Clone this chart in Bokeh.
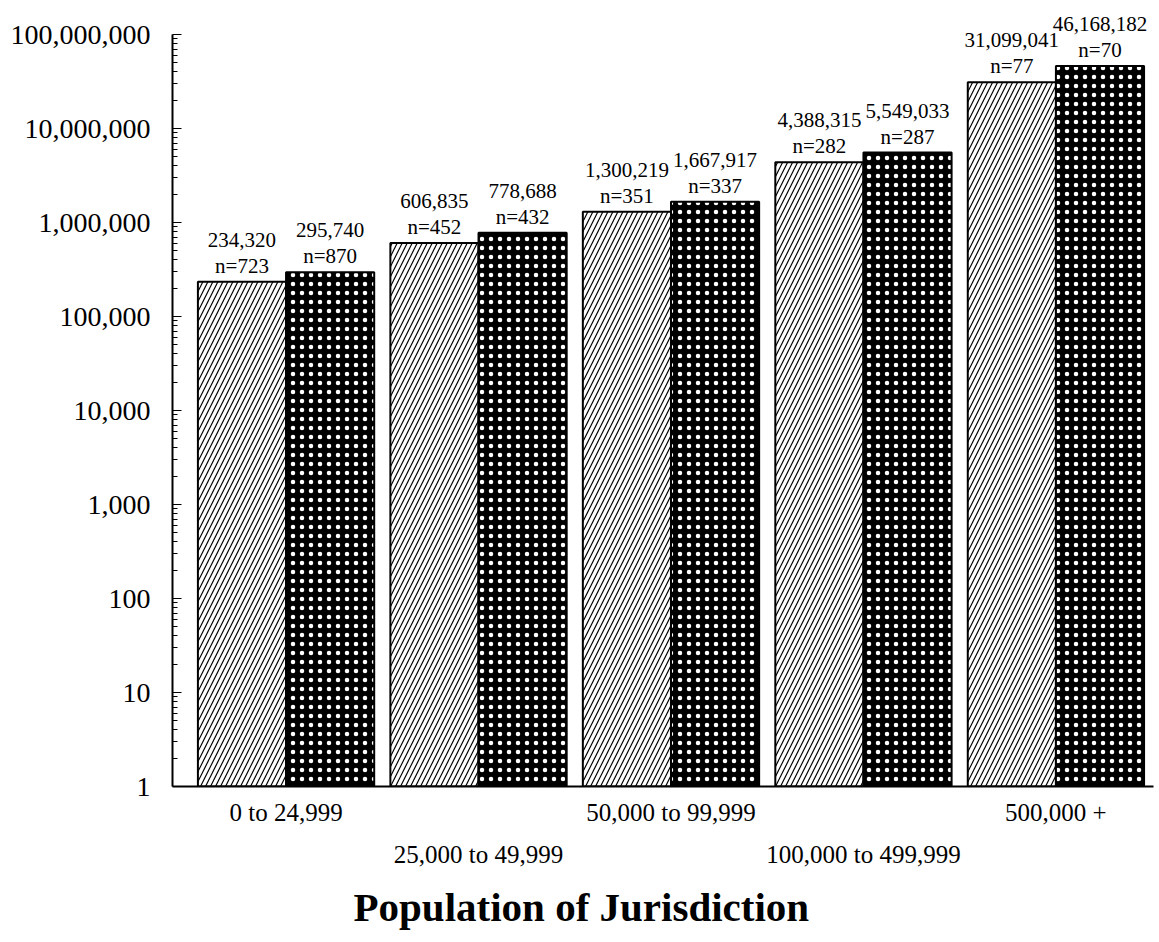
from bokeh.plotting import figure
from bokeh.models import (Range1d, FixedTicker, LinearAxis, ColumnDataSource,
                          LabelSet, Title)
from bokeh.transform import dodge
from bokeh.embed import file_html
from bokeh.resources import INLINE

# ---------------- data ----------------
categories = ["0 to 24,999", "25,000 to 49,999", "50,000 to 99,999",
              "100,000 to 499,999", "500,000 +"]
series_a = [234320, 606835, 1300219, 4388315, 31099041]      # hatched bars
n_a = [723, 452, 351, 282, 77]
series_b = [295740, 778688, 1667917, 5549033, 46168182]      # dotted bars
n_b = [870, 432, 337, 287, 70]
y_tick_values = [1, 10, 100, 1000, 10000, 100000, 1000000, 10000000, 100000000]
y_tick_labels = ["1", "10", "100", "1,000", "10,000", "100,000",
                 "1,000,000", "10,000,000", "100,000,000"]
x_title = "Population of Jurisdiction"

FONT = "Liberation Serif"

idx = list(range(len(categories)))
src = ColumnDataSource(dict(
    idx=idx,
    a=series_a, b=series_b,
    a_val=[f"{v:,}" for v in series_a],
    b_val=[f"{v:,}" for v in series_b],
    a_n=[f"n={v}" for v in n_a],
    b_n=[f"n={v}" for v in n_b],
))

p = figure(width=1157, height=942, output_backend="svg", toolbar_location=None,
           y_axis_type="log",
           x_range=Range1d(-0.59, 4.507), y_range=Range1d(1, 10 ** 8.362),
           min_border_left=172, min_border_right=4, min_border_top=0,
           min_border_bottom=156)
p.outline_line_color = None
p.xgrid.visible = False
p.ygrid.visible = False
p.background_fill_color = "white"
p.border_fill_color = "white"

BW = 0.458
OFF = BW / 2

p.vbar(x=dodge("idx", -OFF), top="a", bottom=1, width=BW, source=src,
       fill_color="white", line_color="black", line_width=2,
       hatch_pattern="/", hatch_color="black", hatch_scale=10, hatch_weight=1.2)
p.vbar(x=dodge("idx", OFF), top="b", bottom=1, width=BW, source=src,
       fill_color="black", line_color="black", line_width=2,
       hatch_pattern=".", hatch_color="white", hatch_scale=9, hatch_weight=1.5)

lab_kw = dict(source=src, text_font=FONT, text_font_size="21px",
              text_color="black", text_align="center", text_baseline="middle")
p.add_layout(LabelSet(x=dodge("idx", -OFF), y="a", text="a_n", y_offset=16, **lab_kw))
p.add_layout(LabelSet(x=dodge("idx", -OFF), y="a", text="a_val", y_offset=42, **lab_kw))
p.add_layout(LabelSet(x=dodge("idx", OFF), y="b", text="b_n", y_offset=16, **lab_kw))
p.add_layout(LabelSet(x=dodge("idx", OFF), y="b", text="b_val", y_offset=42, **lab_kw))

# y axis
ya = p.yaxis[0]
minor = [k * t for t in y_tick_values[:-1] for k in range(2, 10)]
ya.ticker = FixedTicker(ticks=y_tick_values, minor_ticks=minor)
ya.major_label_overrides = {v: s for v, s in zip(y_tick_values, y_tick_labels)}
ya.bounds = (1, 100000000)
ya.axis_line_width = 2
ya.axis_line_color = "black"
ya.major_tick_in = 9
ya.major_tick_out = 0
ya.minor_tick_in = 5
ya.minor_tick_out = 0
ya.major_tick_line_color = "black"
ya.minor_tick_line_color = "black"
ya.major_label_standoff = 22
ya.major_label_text_font = FONT
ya.major_label_text_font_size = "28px"
ya.major_label_text_color = "black"

# x axes: two staggered rows of category labels
xa = p.xaxis[0]
xa.ticker = FixedTicker(ticks=idx[0::2])
xa.major_label_overrides = {i: categories[i] for i in idx[0::2]}
xa.axis_line_width = 2
xa.axis_line_color = "black"
xa.major_tick_in = 0
xa.major_tick_out = 0
xa.minor_tick_line_color = None
xa.major_label_standoff = 12
xa.major_label_text_font = FONT
xa.major_label_text_font_size = "25px"
xa.major_label_text_color = "black"

xa2 = LinearAxis(ticker=FixedTicker(ticks=idx[1::2]),
                 major_label_overrides={i: categories[i] for i in idx[1::2]},
                 axis_line_color=None, major_tick_in=0, major_tick_out=0,
                 minor_tick_line_color=None, major_label_standoff=12,
                 major_label_text_font=FONT, major_label_text_font_size="25px",
                 major_label_text_color="black")
p.add_layout(xa2, "below")

title = Title(text=x_title, align="left", offset=181, standoff=22, text_font=FONT,
              text_font_size="41px", text_font_style="bold", text_color="black")
p.add_layout(title, "below")

open("out.html", "w").write(file_html(p, INLINE))
